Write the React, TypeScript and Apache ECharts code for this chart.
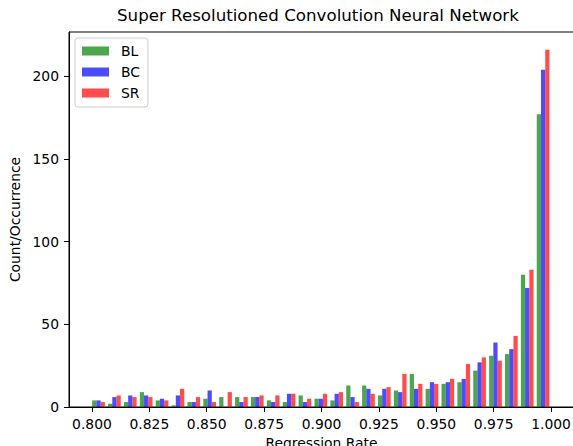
import React, { useEffect, useRef } from "react";
import * as echarts from "echarts";

const TITLE = "Super Resolutioned Convolution Neural Network";
const X_LABEL = "Regression Rate";
const Y_LABEL = "Count/Occurrence";

// histogram bins (edges span BIN_MIN..BIN_MAX, BIN_COUNT equal bins)
const BIN_MIN = 0.7994;
const BIN_MAX = 1.0;
const BIN_COUNT = 29;

const SERIES_NAMES = ["BL", "BC", "SR"];
const BL = [4, 2, 3, 9, 4, 1, 3, 5, 6, 6, 6, 4, 3, 7, 5, 4, 13, 13, 7, 10, 20, 11, 14, 15, 22, 31, 32, 80, 177];
const BC = [4, 6, 7, 7, 5, 7, 3, 10, 0, 3, 6, 3, 8, 3, 5, 8, 6, 11, 11, 9, 11, 15, 15, 17, 27, 39, 35, 72, 204];
const SR = [3, 7, 6, 6, 4, 11, 6, 3, 9, 6, 7, 7, 8, 5, 8, 9, 3, 8, 12, 20, 14, 14, 17, 26, 30, 28, 43, 83, 216];

const X_TICKS = [0.8, 0.825, 0.85, 0.875, 0.9, 0.925, 0.95, 0.975, 1.0];
const Y_TICKS = [0, 50, 100, 150, 200];

const COLORS = ["rgba(0,128,0,0.7)", "rgba(0,0,255,0.7)", "rgba(255,0,0,0.7)"];
const FONT = "DejaVu Sans";

export default function App() {
  const ref = useRef<HTMLDivElement>(null);

  useEffect(() => {
    if (!ref.current) return;
    const chart = echarts.init(ref.current, undefined, { renderer: "svg" });

    const binWidth = (BIN_MAX - BIN_MIN) / BIN_COUNT;
    const centers = BL.map((_, i) => BIN_MIN + binWidth * (i + 0.5));
    const values = [BL, BC, SR];

    const tickFont = { fontSize: 13.89, color: "#000", fontFamily: FONT };

    chart.setOption({
      animation: false,
      backgroundColor: "#ffffff",
      textStyle: { fontFamily: FONT },
      title: {
        text: TITLE,
        left: 117,
        top: 7,
        padding: 0,
        textStyle: { fontSize: 16.67, fontWeight: "normal", color: "#000", fontFamily: FONT },
      },
      legend: {
        data: SERIES_NAMES,
        orient: "vertical",
        left: 75,
        top: 38,
        padding: [5, 8, 6, 7],
        itemWidth: 27,
        itemHeight: 9,
        itemGap: 5,
        icon: "rect",
        backgroundColor: "rgba(255,255,255,0.8)",
        borderColor: "#cccccc",
        borderWidth: 1,
        borderRadius: 3,
        textStyle: { fontSize: 13.89, color: "#000", fontFamily: FONT, lineHeight: 16, padding: [0, 0, 0, 7] },
      },
      grid: {
        left: 69,
        top: 32,
        right: -1,
        bottom: 39,
        show: true,
        borderColor: "#000",
        borderWidth: 1,
        backgroundColor: "transparent",
        containLabel: false,
        outerBoundsMode: "none",
      },
      xAxis: {
        type: "value",
        min: 0.79,
        max: 1.01,
        splitLine: { show: false },
        axisLine: { show: true, onZero: false, lineStyle: { color: "#000", width: 1 } },
        axisTick: { show: true, length: 5, lineStyle: { color: "#000", width: 1 }, customValues: X_TICKS },
        axisLabel: {
          ...tickFont,
          margin: 10,
          customValues: X_TICKS,
          formatter: (v: number) => v.toFixed(3),
        },
        name: X_LABEL,
        nameLocation: "middle",
        nameGap: 28,
        nameTextStyle: { ...tickFont },
      },
      yAxis: {
        type: "value",
        min: 0,
        max: 226.8,
        splitLine: { show: false },
        axisLine: { show: true, onZero: false, lineStyle: { color: "#000", width: 1 } },
        axisTick: { show: true, length: 5, lineStyle: { color: "#000", width: 1 }, customValues: Y_TICKS },
        axisLabel: {
          ...tickFont,
          margin: 10,
          customValues: Y_TICKS,
          formatter: (v: number) => String(Math.round(v)),
        },
        name: Y_LABEL,
        nameLocation: "middle",
        nameGap: 40,
        nameTextStyle: { ...tickFont },
      },
      series: SERIES_NAMES.map((name, s) => ({
        name,
        type: "bar",
        data: centers.map((c, i) => [c, values[s][i]]),
        barWidth: 4.23,
        barGap: "0%",
        itemStyle: { color: COLORS[s] },
      })),
    });

    return () => chart.dispose();
  }, []);

  return (
    <div
      ref={ref}
      style={{ position: "absolute", left: 0, top: 0, width: 573, height: 446, background: "#fff" }}
    />
  );
}
